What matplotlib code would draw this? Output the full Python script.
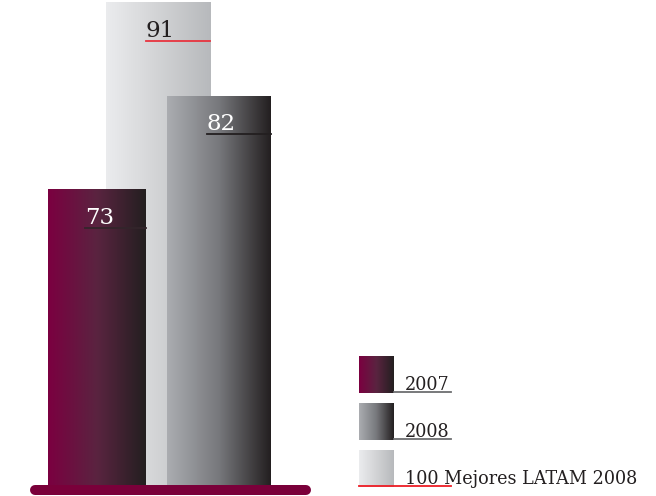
import numpy as np
import matplotlib
matplotlib.use('Agg')
import matplotlib.pyplot as plt
from matplotlib.colors import LinearSegmentedColormap
from matplotlib.lines import Line2D
from matplotlib.transforms import offset_copy

plt.rcParams['font.family'] = ['DejaVu Serif']

# data
categories = ['2007', '100 Mejores LATAM 2008', '2008']
values = [73, 91, 82]
legend_order = ['2007', '2008', '100 Mejores LATAM 2008']

# styles
positions = [0, 1, 2]
widths = [1.6, 1.72, 1.7]
zorders = [2, 1, 2]
gradients = {
    '2007': ['#7b0040', '#5a2440', '#231f20'],
    '2008': ['#abadb1', '#77787c', '#231f20'],
    '100 Mejores LATAM 2008': ['#ebecee', '#d2d3d5', '#b7b9bc'],
}
label_colors = {'2007': 'white', '2008': 'white', '100 Mejores LATAM 2008': '#231f20'}
rule_colors = {'2007': '#33252b', '2008': '#231f20', '100 Mejores LATAM 2008': '#e8343f'}

y_min, y_max = 44.5, 91.2

W, H = 656, 496
fig = plt.figure(figsize=(W / 100, H / 100), dpi=100)
ax = fig.add_axes([30 / W, 11 / H, 282 / W, 485 / H])

grad = np.linspace(0, 1, 256).reshape(1, -1)
heights = [v - y_min for v in values]
bars = ax.bar(positions, heights, bottom=y_min, width=widths, color='none')
for cat, patch, v, x, w, z in zip(categories, bars, values, positions, widths, zorders):
    patch.set_zorder(z)
    cmap = LinearSegmentedColormap.from_list(cat, gradients[cat])
    im = ax.imshow(grad, cmap=cmap, extent=[x - w / 2, x + w / 2, y_min, v],
                   aspect='auto', zorder=z)
    im.set_clip_path(patch)

    tr_txt = offset_copy(ax.transData, fig=fig, y=-25, units='points')
    tr_rule = offset_copy(ax.transData, fig=fig, y=-28, units='points')
    ax.text(x - 0.2, v, str(v), transform=tr_txt, ha='left', va='baseline',
            fontsize=16.5, color=label_colors[cat], zorder=5)
    ax.plot([x - 0.2, x + w / 2], [v, v], transform=tr_rule,
            color=rule_colors[cat], lw=1.3, zorder=5)

ax.set_xlim(-1.098, 3.525)
ax.set_ylim(y_min, y_max)
ax.axis('off')

# base bar
ax.plot([-1.01, 3.43], [-0.0103, -0.0103], transform=ax.get_xaxis_transform(),
        color='#7a003a', lw=7.2, solid_capstyle='round', clip_on=False, zorder=6)

# legend
for i, cat in enumerate(legend_order):
    top = 356 + i * 47
    sw = fig.add_axes([359 / W, (H - top - 37) / H, 35 / W, 37 / H])
    sw.imshow(grad, cmap=LinearSegmentedColormap.from_list(cat + 'l', gradients[cat]),
              aspect='auto')
    sw.axis('off')
    fig.text(405 / W, (H - top - 34) / H, cat, fontsize=12.7, color='#231f20',
             va='baseline', ha='left')
    if i < 2:
        x0, col = 394, '#6d6e71'
    else:
        x0, col = 359, '#ed1c24'
    fig.add_artist(Line2D([x0 / W, 451 / W], [(H - top - 36) / H] * 2,
                          transform=fig.transFigure, color=col, lw=1.3))

fig.savefig('out.png', dpi=100)
